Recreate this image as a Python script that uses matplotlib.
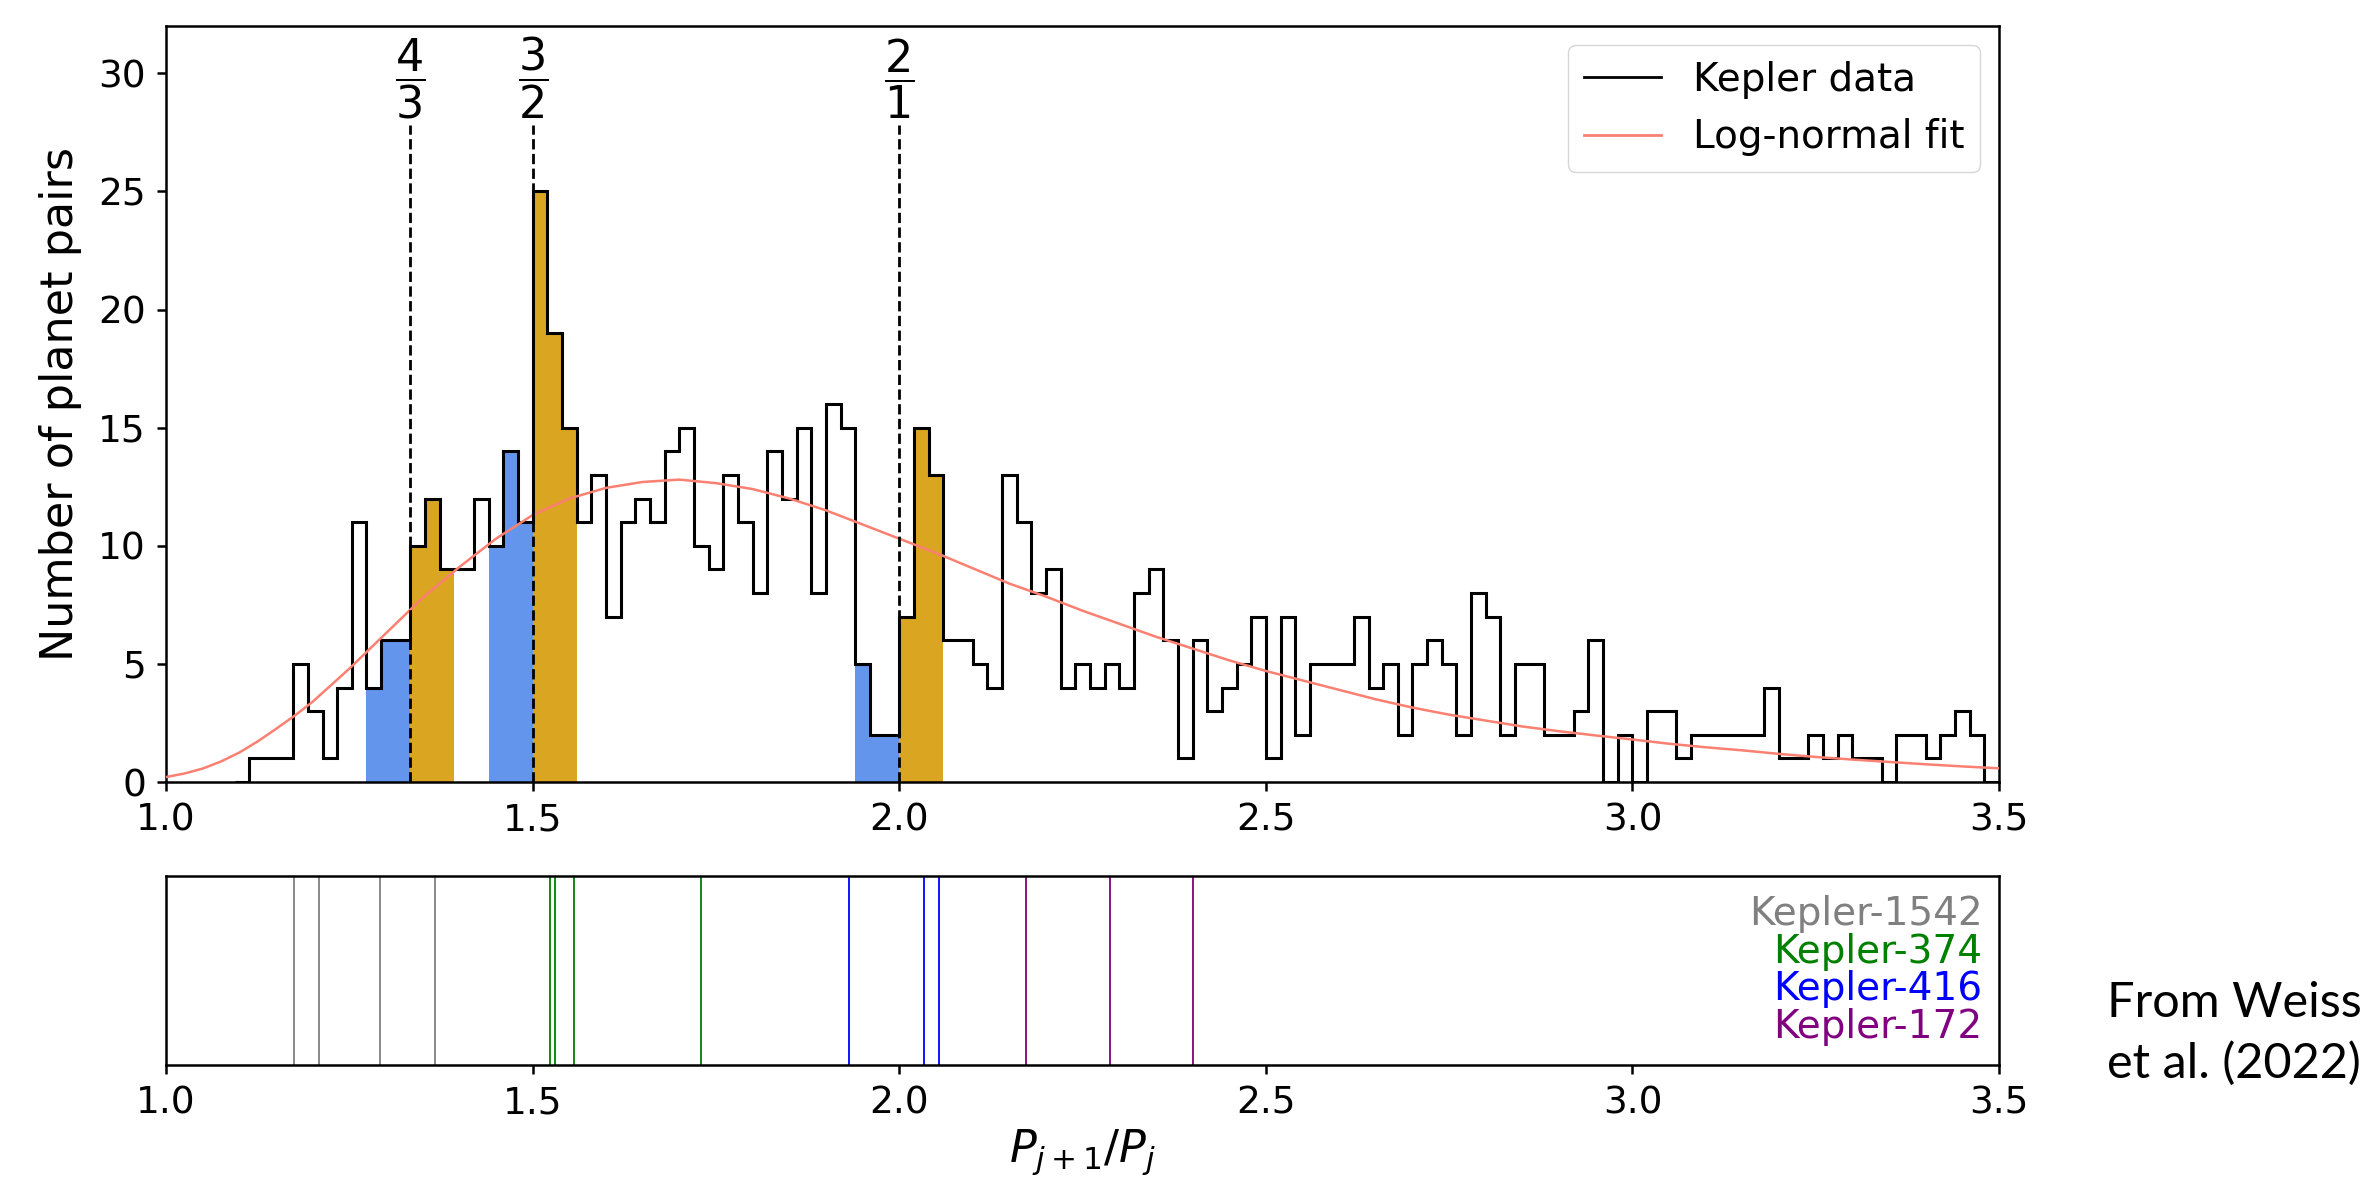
import numpy as np
import matplotlib
matplotlib.use("Agg")
import matplotlib.pyplot as plt
from matplotlib.lines import Line2D

# histogram counts (bins near 4:3 are centred on the resonance, the rest on a 0.02 grid)
counts_43 = [0, 1, 1, 1, 5, 3, 1, 4, 11, 4, 6, 6, 10, 12, 9]
count_gap = [9]
counts_main = [12, 10, 14, 11, 25, 19, 15, 11, 13, 7, 11, 12, 11, 14, 15, 10, 9, 13, 11, 8,
               14, 12, 15, 8, 16, 15, 5, 2, 2, 7, 15, 13, 6, 6, 5, 4, 13, 11, 8, 9,
               4, 5, 4, 5, 4, 8, 9, 6, 1, 6, 3, 4, 5, 7, 1, 7, 2, 5, 5, 5,
               7, 4, 5, 2, 5, 6, 5, 2, 8, 7, 2, 5, 5, 2, 2, 3, 6, 0, 2, 0,
               3, 3, 1, 2, 2, 2, 2, 2, 4, 1, 1, 2, 1, 2, 1, 1, 0, 2, 2, 1,
               2, 3, 2, 0]
bin_width = 0.02

resonances = [4 / 3, 3 / 2, 2 / 1]
res_labels = [r'$\dfrac{4}{3}$', r'$\dfrac{3}{2}$', r'$\dfrac{2}{1}$']

# log-normal fit
fit_x = [1.00, 1.025, 1.05, 1.075, 1.10, 1.125, 1.15, 1.175, 1.20, 1.25, 1.30, 1.35,
         1.40, 1.45, 1.50, 1.55, 1.60,
         1.65, 1.70, 1.75, 1.80, 1.85, 1.90, 1.95, 2.00, 2.05, 2.10, 2.15, 2.20, 2.25,
         2.30, 2.35, 2.40, 2.45, 2.50, 2.55, 2.60, 2.65, 2.70, 2.75, 2.80, 2.85, 2.90,
         2.95, 3.00, 3.05, 3.10, 3.15, 3.20, 3.25, 3.30, 3.35, 3.40, 3.45, 3.50]
fit_y = [0.21, 0.36, 0.57, 0.87, 1.25, 1.72, 2.25, 2.8, 3.4, 4.8, 6.3, 7.8,
         9.1, 10.3, 11.3, 12.0, 12.45,
         12.7, 12.8, 12.65, 12.4, 12.0, 11.5, 10.9, 10.3, 9.7, 9.05, 8.4, 7.85, 7.25,
         6.7, 6.15, 5.65, 5.15, 4.7, 4.3, 3.9, 3.5, 3.15, 2.85, 2.6, 2.35, 2.15,
         1.97, 1.8, 1.62, 1.47, 1.34, 1.19, 1.06, 0.95, 0.85, 0.75, 0.66, 0.58]

# period ratios of individual systems
systems = ['Kepler-1542', 'Kepler-374', 'Kepler-416', 'Kepler-172']
system_colors = ['gray', 'green', 'blue', 'purple']
system_ratios = [
    [1.175, 1.208, 1.292, 1.367],
    [1.524, 1.531, 1.557, 1.729],
    [1.931, 2.034, 2.054],
    [2.173, 2.288, 2.400],
]

edges = np.concatenate([
    4 / 3 + bin_width * np.arange(-12, 4),
    np.round(1.42 + bin_width * np.arange(len(counts_main) + 1), 2),
])
counts = np.array(counts_43 + count_gap + counts_main)
lefts = edges[:-1]
widths = np.diff(edges)
centers = lefts + widths / 2

fig = plt.figure(figsize=(23.66, 11.82), dpi=100)
ax = fig.add_axes([0.0702, 0.3384, 0.7747, 0.6396])
ax2 = fig.add_axes([0.0702, 0.099, 0.7747, 0.160])

# coloured bins just below / above each resonance
for r in resonances:
    below = (centers > r - 3 * bin_width) & (centers < r)
    above = (centers > r) & (centers < r + 3 * bin_width)
    ax.bar(lefts[below], counts[below], width=widths[below], align='edge',
           color='cornflowerblue', linewidth=0, zorder=1)
    ax.bar(lefts[above], counts[above], width=widths[above], align='edge',
           color='goldenrod', linewidth=0, zorder=1)

ax.stairs(counts, edges, color='black', linewidth=2.2, zorder=3)
ax.plot(fit_x, fit_y, color='salmon', linewidth=1.8, zorder=4)

ax.vlines(resonances, 0, 27.8, colors='black', linestyles='--', linewidth=2, zorder=5)
for r, lab in zip(resonances, res_labels):
    ax.text(r, 28.0, lab, ha='center', va='bottom', fontsize=32)

ax.set_xlim(1.0, 3.5)
ax.set_ylim(0, 32)
ax.set_yticks([0, 5, 10, 15, 20, 25, 30])
ax.set_xticks([1.0, 1.5, 2.0, 2.5, 3.0, 3.5])
ax.set_ylabel('Number of planet pairs', fontsize=32, labelpad=12)

handles = [Line2D([], [], color='black', linewidth=2),
           Line2D([], [], color='salmon', linewidth=2)]
ax.legend(handles, ['Kepler data', 'Log-normal fit'], loc='upper right', fontsize=28)

for ratios, c in zip(system_ratios, system_colors):
    for v in ratios:
        ax2.axvline(v, color=c, linewidth=1.3)
for i, (name, c) in enumerate(zip(systems, system_colors)):
    ax2.text(0.991, 0.8 - 0.2 * i, name, color=c, fontsize=28,
             ha='right', va='center', transform=ax2.transAxes)

ax2.set_xlim(1.0, 3.5)
ax2.set_yticks([])
ax2.set_xticks([1.0, 1.5, 2.0, 2.5, 3.0, 3.5])
ax2.set_xlabel(r'$P_{j+1}/P_j$', fontsize=32, labelpad=4)

for a in (ax, ax2):
    for s in a.spines.values():
        s.set_linewidth(1.8)
    a.tick_params(labelsize=27, length=6.5, width=1.8, pad=8)

fig.text(0.8905, 0.1395, 'From Weiss', family='Lato', fontsize=35,
         ha='left', va='baseline')
fig.text(0.8905, 0.088, 'et al. (2022)', family='Lato', fontsize=35,
         ha='left', va='baseline')

fig.savefig('out.png', dpi=100)
